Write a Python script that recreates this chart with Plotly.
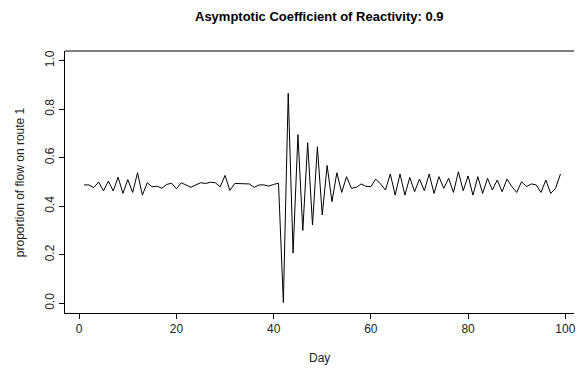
import plotly.graph_objects as go

days = list(range(1, 100))
proportion = [
    0.488, 0.488, 0.477, 0.500, 0.463, 0.504, 0.463, 0.520, 0.453, 0.510,
    0.457, 0.538, 0.446, 0.497, 0.480, 0.483, 0.474, 0.490, 0.495, 0.472,
    0.497, 0.488, 0.478, 0.488, 0.497, 0.494, 0.499, 0.497, 0.480, 0.527,
    0.465, 0.494, 0.494, 0.494, 0.492, 0.478, 0.488, 0.488, 0.483, 0.490,
    0.495, 0.003, 0.866, 0.207, 0.695, 0.300, 0.662, 0.323, 0.645, 0.364,
    0.568, 0.419, 0.538, 0.457, 0.522, 0.474, 0.478, 0.492, 0.482, 0.481,
    0.512, 0.492, 0.467, 0.533, 0.446, 0.533, 0.446, 0.519, 0.460, 0.512,
    0.464, 0.533, 0.453, 0.522, 0.474, 0.515, 0.457, 0.542, 0.464, 0.525,
    0.446, 0.522, 0.453, 0.515, 0.467, 0.508, 0.460, 0.512, 0.481, 0.457,
    0.501, 0.481, 0.492, 0.488, 0.457, 0.508, 0.453, 0.474, 0.533,
]
x_ticks = [0, 20, 40, 60, 80, 100]
y_ticks = [0.0, 0.2, 0.4, 0.6, 0.8, 1.0]

title_text = "Asymptotic Coefficient of Reactivity: 0.9"
x_label = "Day"
y_label = "proportion of flow on route 1"

FONT = "Liberation Sans, Arial, sans-serif"

fig = go.Figure()
fig.add_trace(go.Scatter(
    x=days, y=proportion, mode="lines",
    line=dict(color="#000000", width=1),
    showlegend=False, hoverinfo="skip",
))

fig.update_layout(
    width=576, height=368,
    margin=dict(l=65, r=0, t=51, b=55),
    paper_bgcolor="white", plot_bgcolor="white",
    font=dict(family=FONT, size=12, color="#000000"),
    showlegend=False,
    xaxis=dict(
        range=[-2.92, 101.79], tickvals=x_ticks, ticktext=[str(v) for v in x_ticks],
        showgrid=False, zeroline=False, showline=True, linecolor="#000000", linewidth=1,
        ticks="outside", ticklen=5, tickcolor="#000000", tickwidth=1,
        ticklabeloverflow="allow",
        tickfont=dict(family=FONT, size=12, color="#222222"),
    ),
    yaxis=dict(
        range=[-0.04, 1.04], tickvals=y_ticks, ticktext=[f"{v:.1f}" for v in y_ticks],
        showgrid=False, zeroline=False, showline=True, linecolor="#000000", linewidth=1,
        ticks="outside", ticklen=5, tickcolor="#000000", tickwidth=1,
        tickangle=-90,
        tickfont=dict(family=FONT, size=12, color="#222222"),
    ),
    shapes=[dict(type="line", xref="paper", yref="paper", x0=0, x1=1, y0=1, y1=1,
                 line=dict(color="#000000", width=1))],
    annotations=[
        dict(text="<b>" + title_text + "</b>", xref="paper", yref="paper",
             x=0.5, y=1 + (51 - 17) / 262, xanchor="center", yanchor="middle",
             showarrow=False, font=dict(family=FONT, size=13, color="#000000")),
        dict(text=x_label, xref="paper", yref="paper",
             x=0.5, y=-(358 - 313) / 262, xanchor="center", yanchor="middle",
             showarrow=False, font=dict(family=FONT, size=12, color="#222222")),
        dict(text=y_label, xref="paper", yref="paper",
             x=-(65 - 20) / 511, y=(313 - 182) / 262, xanchor="center", yanchor="middle",
             textangle=-90, showarrow=False,
             font=dict(family=FONT, size=12, color="#222222")),
    ],
)

fig.write_html("out.html")
